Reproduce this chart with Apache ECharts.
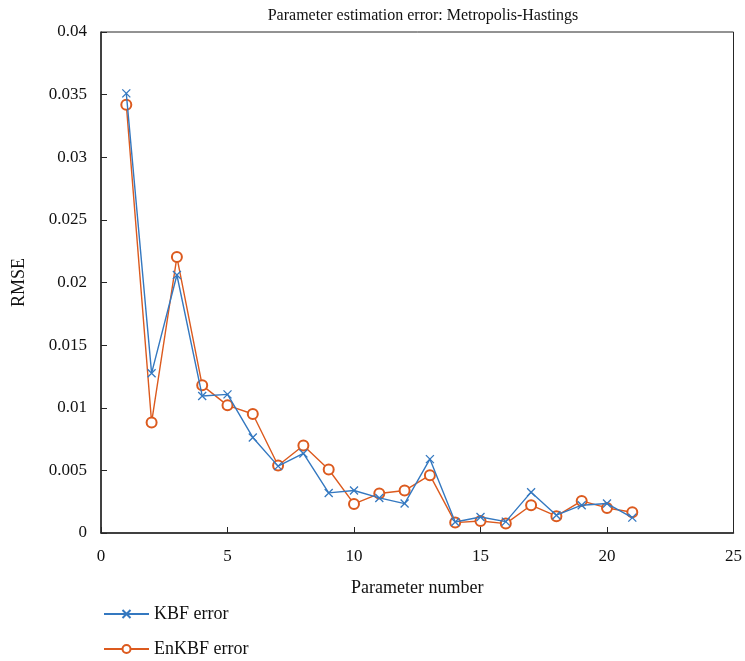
<!DOCTYPE html>
<html>
<head>
<meta charset="utf-8">
<script src="https://cdn.jsdelivr.net/npm/echarts@6/dist/echarts.min.js"></script>
<style>
  html, body { margin: 0; padding: 0; background: #fff; }
  #chart { width: 745px; height: 661px; }
</style>
</head>
<body>
<div id="chart"></div>
<script>
// Parameter index (1..21)
const paramNumbers = [1, 2, 3, 4, 5, 6, 7, 8, 9, 10, 11, 12, 13, 14, 15, 16, 17, 18, 19, 20, 21];

// RMSE per parameter, KBF
const kbfError = [0.0351, 0.01276, 0.0206, 0.01094, 0.01107, 0.00763, 0.00534, 0.00635, 0.0032, 0.00339,
  0.0028, 0.00235, 0.0059, 0.00088, 0.00128, 0.00091, 0.00326, 0.00142, 0.00222, 0.00235, 0.00123];

// RMSE per parameter, EnKBF
const enkbfError = [0.0342, 0.00883, 0.02203, 0.01179, 0.01019, 0.0095, 0.00539, 0.00699, 0.00507, 0.00232,
  0.00315, 0.00339, 0.00462, 0.00083, 0.00096, 0.00075, 0.00222, 0.00134, 0.00256, 0.002, 0.00166];

const blue = '#3478c0';
const orange = '#dc5a1e';
const serif = '"Liberation Serif", "DejaVu Serif", serif';
const crossPath = 'path://M0,0L10,10M10,0L0,10';

// one legend block per series, stacked below the axes
function legendEntry(name, top) {
  return {
    left: 98, top: top,
    itemWidth: 45, itemHeight: 10,
    textStyle: { fontFamily: serif, fontSize: 18, color: '#111' },
    data: [name]
  };
}

const chart = echarts.init(document.getElementById('chart'));
chart.setOption({
  animation: false,
  backgroundColor: '#fff',
  title: {
    text: 'Parameter estimation error: Metropolis-Hastings',
    left: 418, top: 3, textAlign: 'center',
    textStyle: { fontFamily: serif, fontSize: 16, fontWeight: 'normal', color: '#111' }
  },
  grid: {
    left: 101, right: 10, top: 32, bottom: 128,
    show: true, borderColor: '#262626', borderWidth: 1, backgroundColor: 'transparent'
  },
  legend: [legendEntry('KBF error', 600), legendEntry('EnKBF error', 635)],
  xAxis: {
    type: 'value', min: 0, max: 25, interval: 5,
    name: 'Parameter number', nameLocation: 'middle', nameGap: 46,
    nameTextStyle: { fontFamily: serif, fontSize: 18, color: '#111' },
    axisLine: { lineStyle: { color: '#262626', width: 1.5 } },
    axisTick: { inside: true, length: 6, lineStyle: { color: '#262626' } },
    axisLabel: { fontFamily: serif, fontSize: 17, color: '#111', margin: 15 },
    splitLine: { show: false }
  },
  yAxis: {
    type: 'value', min: 0, max: 0.04, interval: 0.005,
    name: 'RMSE', nameLocation: 'middle', nameGap: 73,
    nameTextStyle: { fontFamily: serif, fontSize: 18, color: '#111' },
    axisLine: { show: true, lineStyle: { color: '#262626', width: 1.5 } },
    axisTick: { show: true, inside: true, length: 6, lineStyle: { color: '#262626' } },
    axisLabel: { fontFamily: serif, fontSize: 17, color: '#111', margin: 14 },
    splitLine: { show: false }
  },
  series: [
    {
      name: 'KBF error', type: 'line',
      data: paramNumbers.map((p, i) => [p, kbfError[i]]),
      symbol: crossPath, symbolSize: 8, showAllSymbol: true,
      lineStyle: { color: blue, width: 1.4 },
      itemStyle: { color: blue, borderColor: blue, borderWidth: 1.3 },
      z: 3
    },
    {
      name: 'EnKBF error', type: 'line',
      data: paramNumbers.map((p, i) => [p, enkbfError[i]]),
      symbol: 'emptyCircle', symbolSize: 10, showAllSymbol: true,
      lineStyle: { color: orange, width: 1.4 },
      itemStyle: { color: orange, borderColor: orange, borderWidth: 1.3 },
      z: 2
    }
  ]
});
</script>
</body>
</html>
